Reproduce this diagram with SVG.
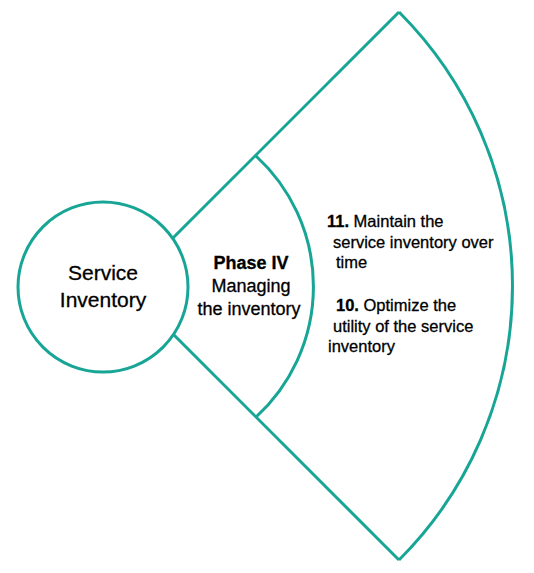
<svg xmlns="http://www.w3.org/2000/svg" width="534" height="573" viewBox="0 0 534 573">
<style>
.s{fill:none;stroke:#17a596;stroke-width:3;stroke-linejoin:miter}
text{font-family:"Liberation Sans",Arial,sans-serif;fill:#000;stroke:#000;stroke-width:0.3}
.b{font-weight:bold}
</style>
<rect width="534" height="573" fill="#fff"/>
<g id="connectors">
<path class="s" d="M172.7,238.3 L399,12"/>
<path class="s" d="M173.5,334.5 L399,560"/>
</g>
<g id="service-inventory">
<circle class="s" cx="103" cy="287" r="85"/>
<text x="103" y="280" font-size="21" text-anchor="middle">Service</text>
<text x="103" y="307" font-size="21" text-anchor="middle">Inventory</text>
</g>
<g id="phase-iv">
<path class="s" d="M256,156 A177,177 0 0 1 256,417"/>
<text x="251" y="269" font-size="18" text-anchor="middle" class="b">Phase IV</text>
<text x="251" y="292" font-size="18" text-anchor="middle">Managing</text>
<text x="249" y="315" font-size="18" text-anchor="middle">the inventory</text>
</g>
<g id="steps">
<path class="s" d="M399,12 A387.5,387.5 0 0 1 399,560"/>
<text font-size="16.5"><tspan x="327" y="227" class="b">11.</tspan><tspan> Maintain the</tspan></text>
<text x="333" y="248" font-size="16.5">service inventory over</text>
<text x="336" y="268" font-size="16.5">time</text>
<text font-size="16.5"><tspan x="336" y="311" class="b">10.</tspan><tspan> Optimize the</tspan></text>
<text x="333" y="332" font-size="16.5">utility of the service</text>
<text x="328" y="352" font-size="16.5">inventory</text>
</g>
</svg>
